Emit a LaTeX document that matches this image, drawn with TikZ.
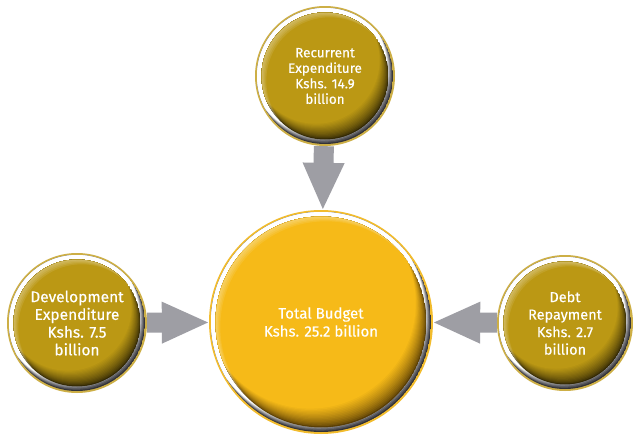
\documentclass[tikz,border=0pt]{standalone}
\usepackage{fontspec}
\setmainfont{Fira Sans}[FakeBold=0.4]
\usetikzlibrary{arrows.meta}
\definecolor{arrowgray}{RGB}{158,158,164}
\definecolor{bigline}{RGB}{242,188,45}
\definecolor{bigA}{RGB}{246,186,24}
\definecolor{bigC}{RGB}{90,62,5}
\definecolor{smallline}{RGB}{205,175,70}
\definecolor{smallA}{RGB}{187,152,20}
\definecolor{smallC}{RGB}{50,40,5}
\definecolor{rimdark}{RGB}{50,50,56}
\tikzset{
  ball/.style n args={5}{circle, inner sep=0pt, minimum size=2*#1, fill=#2,
    text=white, align=center,
    path picture={
      \coordinate (pc) at (path picture bounding box.center);
      \begin{scope}
        \clip (pc) circle[radius=#1-2pt];
        \fill[rimdark] (pc) circle[radius=#1-2pt];
        \foreach \k in {1,...,8}{
          \pgfmathsetmacro{\mix}{100*\k/8}
          \fill[white!\mix!rimdark] ([shift={(-0.75*\k,-1.15*\k)}]pc) circle[radius=#1-2pt];
        }
      \end{scope}
      \begin{scope}
        \clip (pc) circle[radius=#1-6.5pt];
        \fill[#4] (pc) circle[radius=#1-6.5pt];
        \foreach \k in {1,...,14}{
          \pgfmathsetmacro{\mix}{100*(\k/14)^0.7}
          \fill[#3!\mix!#4] ([shift={(-0.6*#5*\k/14,-1.05*#5*\k/14)}]pc) circle[radius=#1-6.5pt];
        }
        \foreach \k in {1,...,4}{
          \fill[white, opacity=0.09, even odd rule] (pc) circle[radius=#1-6.5pt]
             ([shift={(1.2*\k,1.2*\k)}]pc) circle[radius=#1-6.5pt];
        }
      \end{scope}
    }},
  blockarrow/.style={draw=arrowgray, line width=20pt,
    -{Triangle[width=38pt,length=48pt]}, shorten >=-1pt}
}
\begin{document}
\begin{tikzpicture}[x=1pt,y=-1pt]
\useasboundingbox[fill=white] (0,0) rectangle (633,439);
\node[ball={112pt}{bigline}{bigA}{bigC}{18}, font=\fontsize{15}{18}\selectfont] (total) at (321,322) {Total Budget\\Kshs. 25.2 billion};
\node[ball={70pt}{smallline}{smallA}{smallC}{15}, font=\fontsize{13.5}{15.5}\selectfont] (rec) at (325,76) {Recurrent\\Expenditure\\Kshs. 14.9\\billion};
\node[ball={70pt}{smallline}{smallA}{smallC}{15}, font=\fontsize{15.5}{17.7}\selectfont] (dev) at (77,323) {Development\\Expenditure\\Kshs. 7.5\\billion};
\node[ball={68pt}{smallline}{smallA}{smallC}{15}, font=\fontsize{14.5}{17.5}\selectfont] (debt) at (565,323) {Debt\\Repayment\\Kshs. 2.7\\billion};
\draw[blockarrow] (rec) -- (total);
\draw[blockarrow] (dev) -- (total);
\draw[blockarrow] (debt) -- (total);
\end{tikzpicture}
\end{document}
